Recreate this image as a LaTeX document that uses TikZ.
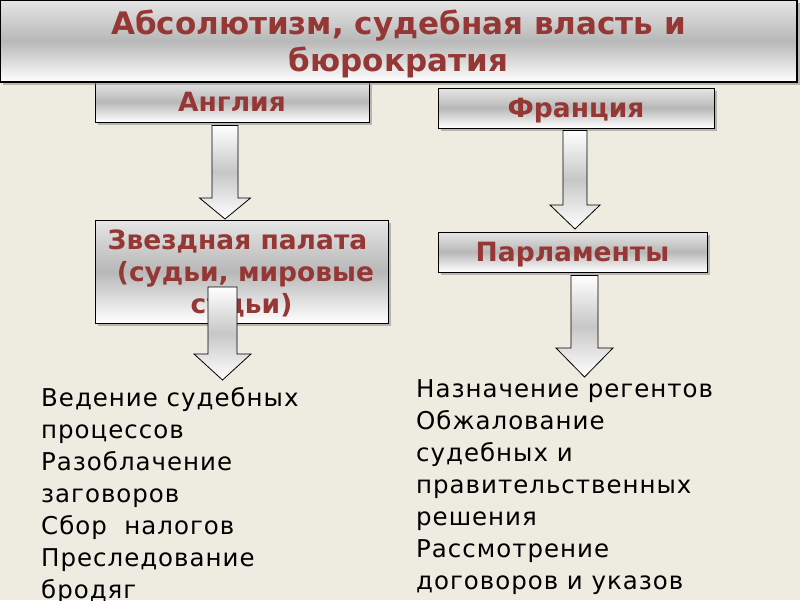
\documentclass[tikz,border=0pt]{standalone}
\usepackage{fontspec}
\setmainfont{DejaVu Sans}
\newfontfamily\listfont[LetterSpace=4]{DejaVu Sans}
\usepackage{xcolor}
\usepackage{tikz}
\usetikzlibrary{positioning, calc, shadows}
\definecolor{slidebg}{HTML}{EEECE1}
\definecolor{titlered}{HTML}{953735}
\tikzset{
    baseblock/.style={rectangle, draw=black, line width=0.8pt, top color=black!10, bottom color=white, middle color=black!28, text=titlered, align=center, inner sep=0pt, drop shadow={shadow xshift=3pt, shadow yshift=-3pt, fill=black!50, opacity=0.5}},
    titleblock/.style={baseblock, line width=1.2pt, minimum width=797pt, minimum height=82pt, font=\fontsize{31}{37}\bfseries\selectfont, text depth=0pt},
    smallblock/.style={baseblock, minimum height=40pt, font=\fontsize{26.5}{32}\bfseries\selectfont, text height=19.3pt, text depth=0pt},
    bigblock/.style={baseblock, font=\fontsize{26.5}{32}\bfseries\selectfont, text depth=0pt},
    blockarrow/.style={draw=black, line width=0.8pt, top color=white, bottom color=white, middle color=black!22},
    listtext/.style={anchor=north west, align=left, inner sep=0pt, font=\listfont\fontsize{24.5}{32}\selectfont}
}
\newcommand{\blockarrow}[5]{%
    \draw[blockarrow] ($(#1)+(-#3,0)$) -- ($(#1)+(#3,0)$) -- ($(#2)+(#3,-#5)$) -- ($(#2)+(#4,-#5)$) -- (#2) -- ($(#2)+(-#4,-#5)$) -- ($(#2)+(-#3,-#5)$) -- cycle;}

\begin{document}
\begin{tikzpicture}[x=1pt, y=-1pt]
    \useasboundingbox (0,0) rectangle (800,600);
    \fill[slidebg] (0,0) rectangle (800,600);

    \node (england) [smallblock, minimum width=274pt] at (232,102) {Англия};
    \node (title) [titleblock] at (398.5,41) {Абсолютизм, судебная власть и\\бюрократия};
    \node (france) [smallblock, minimum width=276pt] at (576,108) {Франция};

    \coordinate (en1) at ($(england.south)+(-7,3)$);
    \coordinate (en1tip) at (225,219);
    \coordinate (fr1) at ($(france.south)+(-1,2)$);
    \coordinate (fr1tip) at (575,229);
    \blockarrow{en1}{en1tip}{13}{25.5}{21}
    \blockarrow{fr1}{fr1tip}{12}{25}{24}

    \node (starchamber) [bigblock, minimum width=293pt, minimum height=103pt] at (241.5,271.5) {Звездная палата\hspace*{8pt}\\\hspace*{8pt}(судьи, мировые\\судьи)};
    \node (parliaments) [smallblock, minimum width=269pt] at (572.5,252) {Парламенты};

    \coordinate (en2) at (222.5,287);
    \coordinate (en2tip) at (222.5,380);
    \coordinate (fr2) at ($(parliaments.south)+(12,3)$);
    \coordinate (fr2tip) at (584.5,377);
    \blockarrow{en2}{en2tip}{14.5}{28.5}{26}
    \blockarrow{fr2}{fr2tip}{13.5}{28.5}{29}

    \node (englist) [listtext] at (41,387) {Ведение судебных\\процессов\\Разоблачение\\заговоров\\Сбор~ налогов\\Преследование\\бродяг};
    \node (frlist) [listtext] at (416,379) {Назначение регентов\\Обжалование\\судебных и\\правительственных\\решения\\Рассмотрение\\договоров и указов};
\end{tikzpicture}
\end{document}
